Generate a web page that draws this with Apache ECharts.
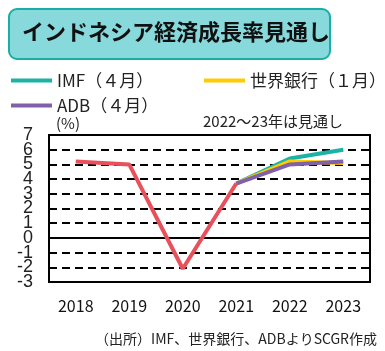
<!DOCTYPE html>
<html>
<head>
<meta charset="utf-8">
<script src="https://cdn.jsdelivr.net/npm/echarts@6/dist/echarts.min.js"></script>
<style>
  html, body { margin: 0; padding: 0; background: #fff; }
  #main { width: 385px; height: 351px; }
</style>
</head>
<body>
<div id="main"></div>
<script>
  // データ
  var years = ['2018', '2019', '2020', '2021', '2022', '2023'];
  var actual = [5.2, 5.0, -2.1, 3.7, null, null];
  var imf = [null, null, null, 3.7, 5.4, 6.0];
  var worldBank = [null, null, null, 3.7, 5.2, 5.1];
  var adb = [null, null, null, 3.7, 5.0, 5.2];
  var yMin = -3, yMax = 7;

  var font = '"Noto Sans CJK JP", sans-serif';
  var colors = { imf: '#1cb3a6', wb: '#ffcc00', adb: '#8060a8', act: '#e8505c' };
  var yLabelStyle = { fontSize: 18, color: '#222', margin: 16, fontFamily: 'Liberation Sans, sans-serif' };

  var chart = echarts.init(document.getElementById('main'));
  var option = {
    backgroundColor: '#fff',
    animation: false,
    textStyle: { fontFamily: font },
    graphic: [
      {
        type: 'rect',
        shape: { x: 9, y: 9, width: 321, height: 50, r: 8 },
        style: { fill: '#88d9dc', stroke: '#1aaea5', lineWidth: 2 }
      },
      {
        type: 'text', left: 22, top: 21,
        style: { text: 'インドネシア経済成長率見通し', font: 'bold 22px ' + font, fill: '#111' }
      },
      {
        type: 'text', left: 56, top: 116,
        style: { text: '(%)', font: '15px ' + font, fill: '#222' }
      },
      {
        type: 'text', left: 203, top: 114,
        style: { text: '2022～23年は見通し', font: '15px ' + font, fill: '#222' }
      },
      {
        type: 'text', right: 8, top: 332,
        style: { text: '（出所）IMF、世界銀行、ADBよりSCGR作成', font: '14px ' + font, fill: '#222' }
      }
    ],
    legend: [
      {
        data: ['IMF（４月）'], left: 6, top: 67, icon: 'rect',
        itemWidth: 41, itemHeight: 4, itemGap: 4,
        textStyle: { fontSize: 17, color: '#222', fontFamily: font }
      },
      {
        data: ['世界銀行（１月）'], left: 199, top: 67, icon: 'rect',
        itemWidth: 41, itemHeight: 4,
        textStyle: { fontSize: 17, color: '#222', fontFamily: font }
      },
      {
        data: ['ADB（４月）'], left: 6, top: 92, icon: 'rect',
        itemWidth: 41, itemHeight: 4,
        textStyle: { fontSize: 17, color: '#222', fontFamily: font }
      }
    ],
    grid: {
      left: 49, top: 135, width: 321, height: 147,
      show: true, borderColor: '#000', borderWidth: 2
    },
    xAxis: {
      type: 'category',
      data: years,
      boundaryGap: true,
      axisLine: { show: false },
      axisTick: { show: false },
      axisLabel: { fontSize: 16, color: '#111', margin: 16, fontFamily: font }
    },
    yAxis: [
      {
        type: 'value',
        min: yMin, max: yMax, interval: 1,
        axisLine: { show: false },
        axisTick: { show: false },
        axisLabel: yLabelStyle,
        splitLine: { lineStyle: { color: '#000', width: 2, type: [8, 5] } }
      },
      {
        // 上端・下端の目盛ラベル(7, -3)用
        type: 'value', position: 'left', offset: 0,
        min: yMin, max: yMax, interval: 1,
        axisLine: { show: false },
        axisTick: { show: false },
        splitLine: { show: false },
        axisLabel: Object.assign({}, yLabelStyle, {
          showMinLabel: true, showMaxLabel: true,
          formatter: function (v) { return (v === yMin || v === yMax) ? String(v) : ''; }
        })
      }
    ],
    series: [
      {
        name: 'IMF（４月）', type: 'line', data: imf, color: colors.imf,
        symbol: 'none', lineStyle: { width: 4 }, z: 3
      },
      {
        name: '世界銀行（１月）', type: 'line', data: worldBank, color: colors.wb,
        symbol: 'none', lineStyle: { width: 4 }, z: 4
      },
      {
        name: 'ADB（４月）', type: 'line', data: adb, color: colors.adb,
        symbol: 'none', lineStyle: { width: 4 }, z: 5
      },
      {
        name: '実績', type: 'line', data: actual, color: colors.act,
        symbol: 'none', lineStyle: { width: 4 }, z: 6,
        markLine: {
          silent: true, symbol: 'none', label: { show: false },
          lineStyle: { color: '#000', width: 2, type: 'solid' },
          data: [{ yAxis: 0 }]
        }
      }
    ]
  };
  chart.setOption(option);
</script>
</body>
</html>
